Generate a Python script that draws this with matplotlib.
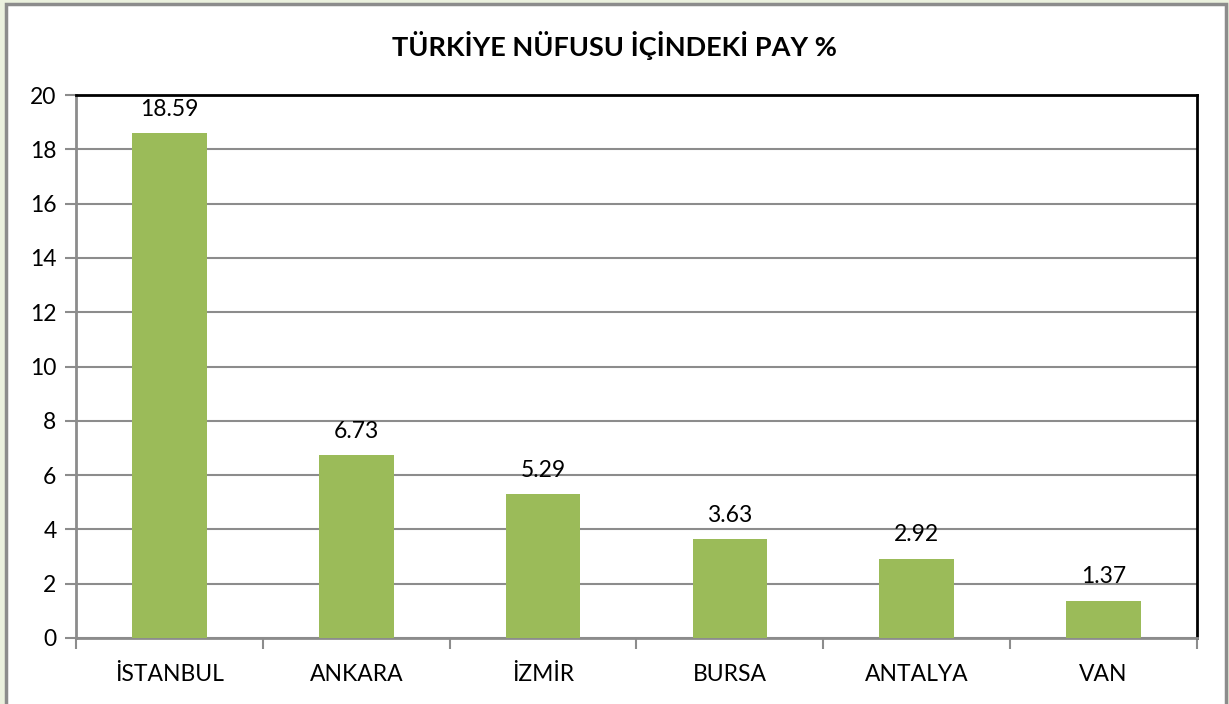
import numpy as np
import matplotlib
matplotlib.use('Agg')
import matplotlib.pyplot as plt
from matplotlib.patches import Rectangle

# data
cities = ["İSTANBUL", "ANKARA", "İZMİR", "BURSA", "ANTALYA", "VAN"]
shares = [18.59, 6.73, 5.29, 3.63, 2.92, 1.37]
title = "TÜRKİYE NÜFUSU İÇİNDEKİ PAY %"

plt.rcParams['font.family'] = ['Lato', 'DejaVu Sans']

fig = plt.figure(figsize=(12.29, 7.04), dpi=100)
fig.patch.set_facecolor("#EBF1DE")

# white chart area with grey border
W, H = 1229, 704
fig.patches.append(Rectangle((6.5 / W, -0.01), (1226 - 6.5) / W, (704 - 3.5) / H + 0.01,
                             transform=fig.transFigure, facecolor="white",
                             edgecolor="#8C8C8C", linewidth=2.5, zorder=-5))

ax = fig.add_axes([76 / W, (704 - 638) / H, (1197 - 76) / W, (638 - 95) / H])
ax.set_zorder(1)
ax.patch.set_alpha(0)
x = np.arange(len(cities))
ax.bar(x, shares, width=0.4, color="#9BBB59", zorder=3)

for xi, v in zip(x, shares):
    ax.text(xi, v + 0.88, f"{v:.2f}", ha="center", va="center", fontsize=16.5)

ax.set_xlim(-0.5, len(cities) - 0.5)
ax.set_ylim(0, 20)
ax.set_yticks(np.arange(0, 21, 2))
ax.set_xticks(x)
ax.set_xticklabels(cities, fontsize=16.5)
ax.tick_params(axis="y", labelsize=16.5, length=8, color="#8C8C8C", width=1.5, pad=6)
ax.tick_params(axis="x", length=0, pad=19)
# category boundary ticks
ax.set_xticks(np.arange(-0.5, len(cities)), minor=True)
ax.tick_params(axis="x", which="minor", length=8, color="#8C8C8C", width=1.5)

ax.grid(axis="y", color="#8C8C8C", linewidth=1.5, zorder=0)
for s in ["left", "bottom"]:
    ax.spines[s].set_color("#8C8C8C")
    ax.spines[s].set_linewidth(2)
for s in ["top", "right"]:
    ax.spines[s].set_color("black")
    ax.spines[s].set_linewidth(2)

fig.text(0.5, 1 - 45 / H, title, ha="center", va="center", fontsize=19.5, fontweight="bold")

plt.savefig("out.png", dpi=100)
